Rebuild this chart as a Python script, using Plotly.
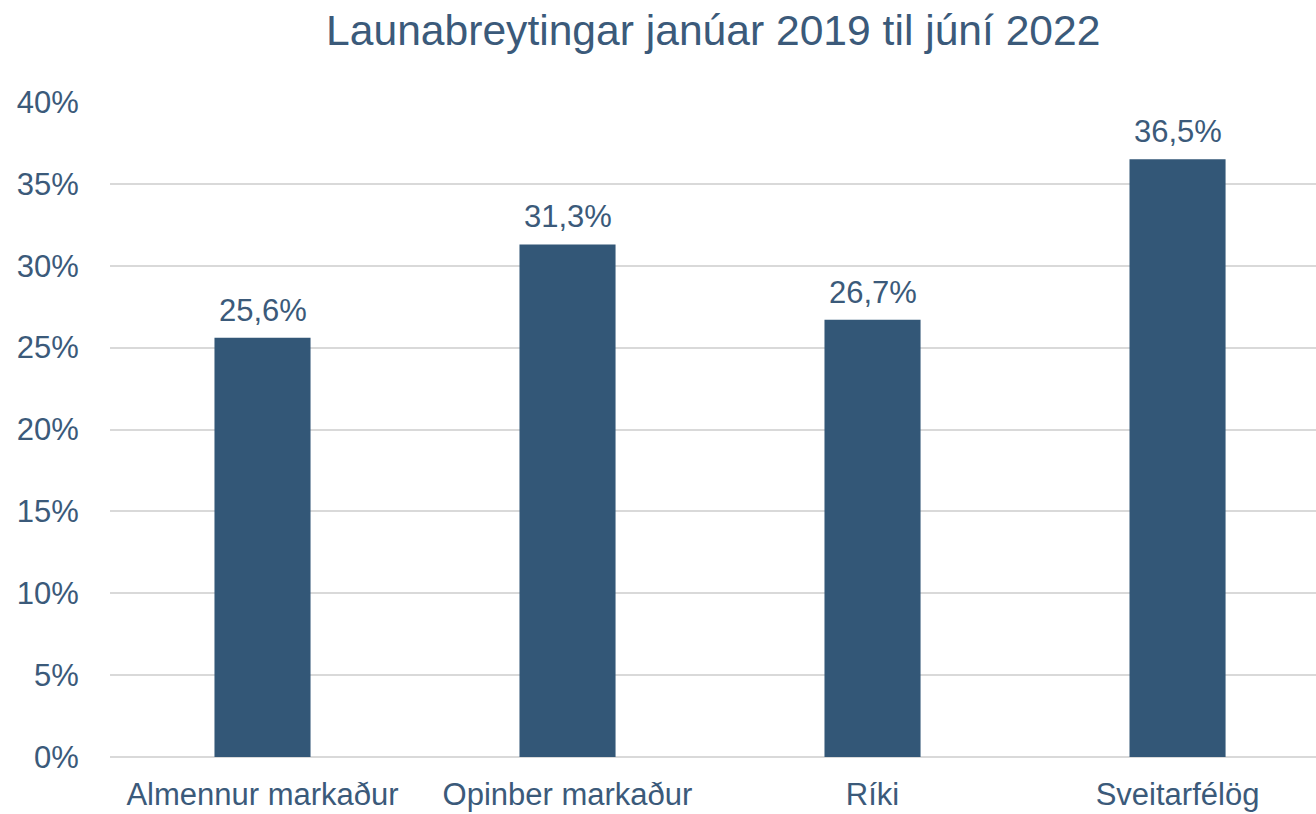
import plotly.graph_objects as go

categories = ["Almennur markaður", "Opinber markaður", "Ríki", "Sveitarfélög"]
values = [25.6, 31.3, 26.7, 36.5]
y_ticks = [0, 5, 10, 15, 20, 25, 30, 35, 40]

bar_color = "#335777"
text_color = "#3B5A7A"
font_family = "Liberation Sans, Arial, sans-serif"

labels = [f"{v:.1f}".replace(".", ",") + "%" for v in values]
y_tick_text = [f"{t}%" for t in y_ticks]

fig = go.Figure()
fig.add_trace(go.Bar(
    x=categories, y=values,
    marker=dict(color=bar_color, line=dict(width=0)),
    width=0.315,
    hoverinfo="skip",
))

for c, v, t in zip(categories, values, labels):
    fig.add_annotation(x=c, y=v, text=t, showarrow=False, yanchor="bottom",
                       yshift=8, font=dict(family=font_family, size=31, color=text_color))

fig.update_layout(
    width=1316, height=814,
    margin=dict(l=110, r=0, t=102, b=57),
    paper_bgcolor="white", plot_bgcolor="white",
    title=dict(text="Launabreytingar janúar 2019 til júní 2022", x=0.542, xanchor="center",
               y=0.963, yanchor="middle",
               font=dict(family=font_family, size=42.6, color=text_color)),
    showlegend=False,
)
fig.update_xaxes(
    range=[-0.5, 3.454], showgrid=False, zeroline=False, showline=False,
    ticks="outside", ticklen=10, tickcolor="rgba(0,0,0,0)",
    tickfont=dict(family=font_family, size=31, color=text_color),
)
fig.update_yaxes(
    range=[0, 40], tickvals=y_ticks, ticktext=y_tick_text,
    showgrid=True, gridcolor="#D9D9D9", gridwidth=1.5,
    zeroline=True, zerolinecolor="#D9D9D9", zerolinewidth=1.5,
    showline=False, ticks="outside", ticklen=24, tickcolor="rgba(0,0,0,0)",
    tickfont=dict(family=font_family, size=31, color=text_color),
)

fig.write_html("out.html",
               config={"displayModeBar": False},
               post_script="document.body.style.margin='0';document.body.style.overflow='hidden';")
